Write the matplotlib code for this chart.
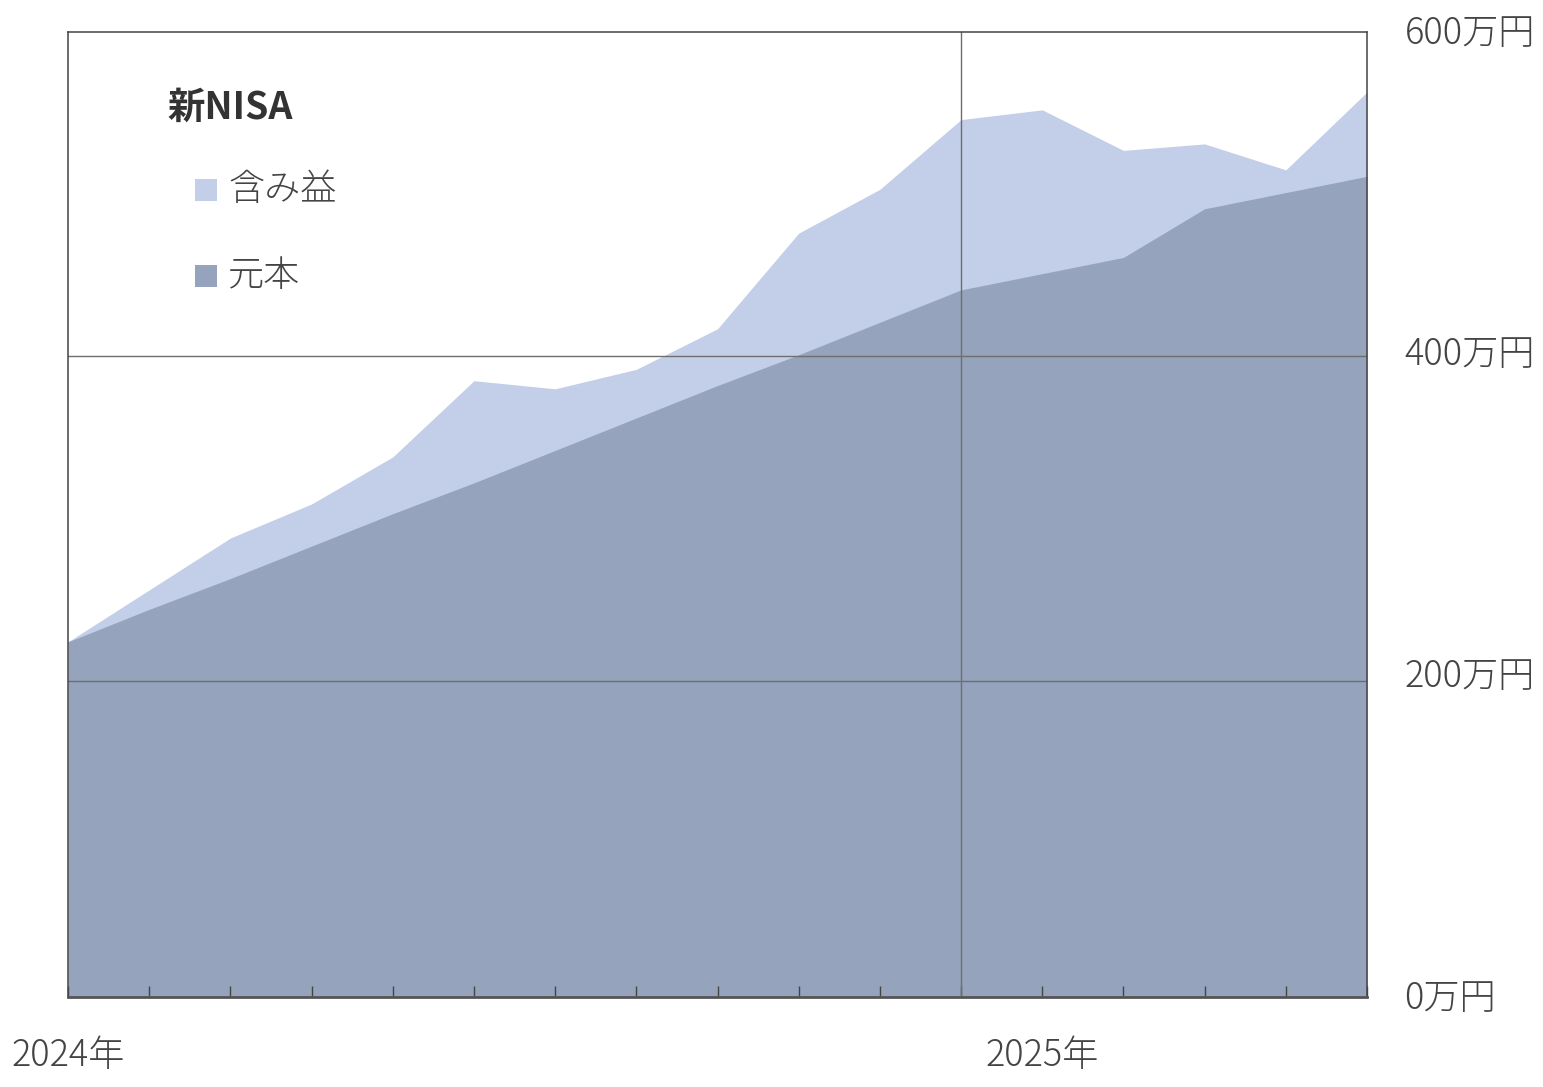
import matplotlib
matplotlib.use("Agg")
import matplotlib.pyplot as plt
from matplotlib.patches import Rectangle
from matplotlib import transforms

plt.rcParams['font.family'] = ['Noto Sans CJK JP', 'DejaVu Sans']

# ---- data (万円) ----
months = ['2024-01', '2024-02', '2024-03', '2024-04', '2024-05', '2024-06',
          '2024-07', '2024-08', '2024-09', '2024-10', '2024-11', '2024-12',
          '2025-01', '2025-02', '2025-03', '2025-04', '2025-05']
principal = [224, 244, 263, 283, 303, 322, 342, 362, 382, 401, 421, 441,
             451, 461, 491, 501, 511]
total = [224, 256, 288, 309, 338, 385, 380, 392, 417, 476, 503, 546,
         552, 527, 531, 515, 563]
year_labels = ['2024年', '2025年']
grid_values = [200, 400]
y_ticks = [0, 200, 400, 600]
y_tick_labels = ['0万円', '200万円', '400万円', '600万円']
legend_title = '新NISA'
series_names = ['含み益', '元本']

c_gain = '#c3cfe9'
c_prin = '#96a3bd'
c_grid = '#6e6e6e'
c_spine = '#444444'
c_text = '#444444'

W, H = 1543, 1087
fig = plt.figure(figsize=(W / 100, H / 100), dpi=100)
ax = fig.add_axes([68 / W, (H - 997) / H, (1367 - 68) / W, (997 - 32) / H])

x = list(range(len(months)))
ax.fill_between(x, 0, total, color=c_gain, linewidth=0, zorder=1)
ax.fill_between(x, 0, principal, color=c_prin, linewidth=0, zorder=2)

ax.set_xlim(x[0], x[-1])
ax.set_ylim(5, 600)
ax.set_axisbelow(False)

# gridlines
for v in grid_values:
    ax.axhline(v, color=c_grid, lw=1.0, zorder=3)
divider = months.index('2025-01') - 1
ax.axvline(divider, color=c_grid, lw=1.0, zorder=3)

# spines
for s in ['left', 'top', 'right']:
    ax.spines[s].set_color(c_spine)
    ax.spines[s].set_linewidth(1.1)
ax.spines['bottom'].set_color('#555555')
ax.spines['bottom'].set_linewidth(2.0)
for s in ax.spines.values():
    s.set_zorder(5)

# x ticks
ax.set_xticks(x)
ax.set_xticklabels([''] * len(x))
ax.tick_params(axis='x', direction='in', length=8, width=1.0, color='#444444')
ax.set_yticks([])
trans = transforms.blended_transform_factory(ax.transData, ax.transAxes)
year_idx = [i for i, m in enumerate(months) if m.endswith('-01')]
for i, lab in zip(year_idx, year_labels):
    ax.text(i, -0.061, lab, transform=trans, ha='center', va='center',
            fontsize=26, color=c_text, fontweight='light')

# y labels on right (labels on a 0-600 scale)
ax2 = ax.twinx()
ax2.set_ylim(0, 600)
ax2.set_yticks(y_ticks)
ax2.set_yticklabels(y_tick_labels)
ax2.tick_params(axis='y', length=0, pad=27, labelsize=26, labelcolor=c_text)
for s in ax2.spines.values():
    s.set_visible(False)
shift = transforms.ScaledTranslation(0, 3 / 100, fig.dpi_scale_trans)
for t in ax2.get_yticklabels():
    t.set_transform(t.get_transform() + shift)
    t.set_fontweight('light')

# legend (manual)
fig.text(167 / W, 1 - 107 / H, legend_title, fontsize=27, fontweight='bold',
         color='#333333', va='center', ha='left')
for name, col, yc in zip(series_names, [c_gain, c_prin], [190, 276]):
    fig.patches.append(Rectangle((195 / W, 1 - (yc + 11) / H), 22 / W, 22 / H,
                                 transform=fig.transFigure, facecolor=col,
                                 edgecolor='none'))
    fig.text(228 / W, 1 - yc / H, name, fontsize=26, color=c_text,
             va='center', ha='left', fontweight='light')

fig.savefig('out.png', dpi=100)
